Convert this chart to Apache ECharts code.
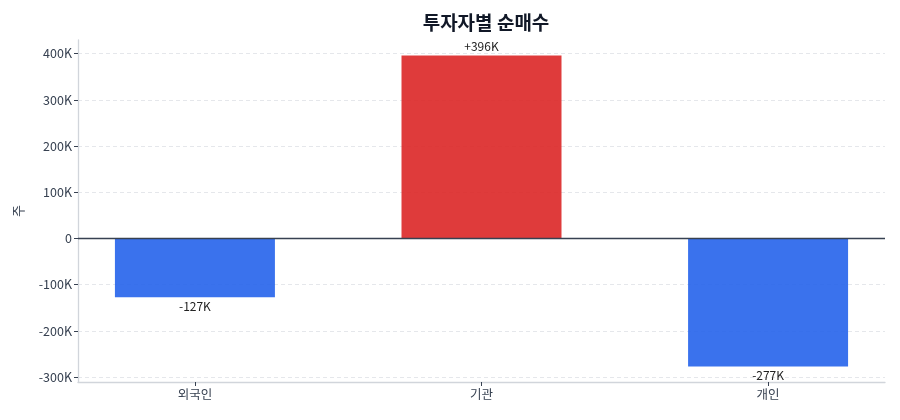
<!DOCTYPE html>
<html>
<head>
<meta charset="utf-8">
<script src="https://cdn.jsdelivr.net/npm/echarts@6/dist/echarts.min.js"></script>
<style>
  html, body { margin: 0; padding: 0; background: #fff; }
  #chart { width: 900px; height: 420px; }
</style>
</head>
<body>
<div id="chart"></div>
<script>
// 투자자별 순매수 막대 차트

const categories = ['외국인', '기관', '개인'];
const netBuy = [-127000, 396000, -277000];
const yTicks = [-300000, -200000, -100000, 0, 100000, 200000, 300000, 400000];

const chartDom = document.getElementById('chart');
let chart = echarts.init(chartDom);

const fontFamily = '"Noto Sans CJK KR", "Noto Sans", sans-serif';

function fmtK(v) {
    if (v === 0) return '0';
    return Math.round(v / 1000) + 'K';
}

let option = {
    animation: false,
    textStyle: { fontFamily: fontFamily },
    title: {
        text: '투자자별 순매수',
        left: 481,
        textAlign: 'center',
        top: 8,
        textStyle: {
            fontFamily: fontFamily,
            fontSize: 19,
            fontWeight: 'bold',
            color: '#111827'
        }
    },
    grid: {
        left: 78,
        right: 15,
        top: 40,
        bottom: 38
    },
    xAxis: {
        type: 'value',
        min: -0.408,
        max: 2.408,
        axisLine: {
            onZero: false,
            lineStyle: { color: '#d1d5db', width: 1.3 }
        },
        axisTick: {
            customValues: [0, 1, 2],
            length: 4,
            lineStyle: { color: '#374151' }
        },
        axisLabel: {
            customValues: [0, 1, 2],
            color: '#374151',
            fontSize: 12.5,
            margin: 6,
            formatter: function (v) {
                return categories[Math.round(v)];
            }
        },
        splitLine: { show: false }
    },
    yAxis: {
        type: 'value',
        min: -310600,
        max: 429700,
        name: '주',
        nameLocation: 'middle',
        nameGap: 53,
        nameTextStyle: {
            color: '#374151',
            fontSize: 13
        },
        axisLine: {
            show: true,
            onZero: false,
            lineStyle: { color: '#d1d5db', width: 1.3 }
        },
        axisTick: {
            show: true,
            customValues: yTicks,
            length: 4,
            lineStyle: { color: '#374151' }
        },
        axisLabel: {
            customValues: yTicks,
            color: '#374151',
            fontSize: 12.5,
            margin: 6,
            formatter: fmtK
        },
        splitLine: {
            show: true,
            lineStyle: { color: '#e5e7eb', type: [4, 3] }
        }
    },
    series: [
        {
            type: 'bar',
            barWidth: 160,
            data: netBuy.map(function (v, i) {
                return {
                    value: [i, v],
                    itemStyle: {
                        color: v >= 0 ? 'rgba(220,38,38,0.9)' : 'rgba(37,99,235,0.9)'
                    },
                    label: {
                        position: v >= 0 ? 'top' : 'bottom'
                    }
                };
            }),
            label: {
                show: true,
                distance: 3,
                color: '#222',
                fontSize: 12,
                formatter: function (p) {
                    const v = p.value[1];
                    return (v > 0 ? '+' : '') + fmtK(v);
                }
            },
            markLine: {
                silent: true,
                symbol: 'none',
                label: { show: false },
                lineStyle: { color: '#374151', width: 1.3, type: 'solid' },
                data: [{ yAxis: 0 }]
            }
        }
    ]
};

option && chart.setOption(option);
</script>
</body>
</html>
